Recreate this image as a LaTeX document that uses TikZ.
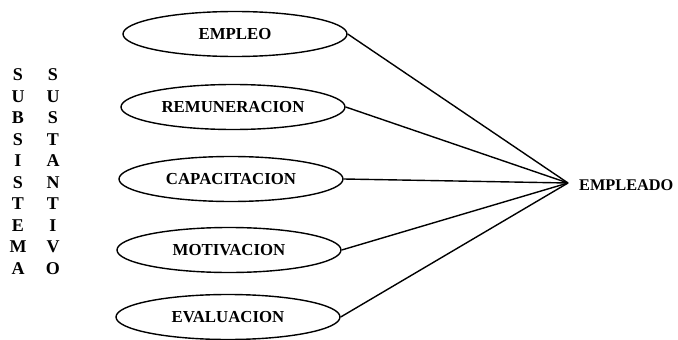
\documentclass[tikz,border=0pt]{standalone}
\usepackage{fontspec}
\setmainfont{Liberation Serif}
\usetikzlibrary{shapes.geometric}
\begin{document}
\begin{tikzpicture}[x=1pt,y=-1pt,
  oval/.style={draw, line width=1.4pt, ellipse, minimum width=224pt, minimum height=45pt, inner sep=0pt, font=\fontsize{16.8}{16.8}\selectfont\bfseries},
  conn/.style={line width=1.4pt},
  vletter/.style={font=\fontsize{18}{18}\selectfont\bfseries, inner sep=0pt, anchor=center},
  lbl/.style={font=\fontsize{16.3}{16.3}\selectfont\bfseries, inner sep=0pt}]
\useasboundingbox (0,0) rectangle (678,340);
\fill[white] (0,0) rectangle (678,340);
\node[oval] (e1) at (235,34) {EMPLEO};
\node[oval] (e2) at (233,107) {REMUNERACION};
\node[oval] (e3) at (231,179) {CAPACITACION};
\node[oval] (e4) at (229,250) {MOTIVACION};
\node[oval] (e5) at (228,317) {EVALUACION};
\coordinate (hub) at (568,183);
\node[lbl, anchor=west] (emp) at (579,185) {EMPLEADO};
\foreach \e in {e1,e2,e3,e4,e5} \draw[conn] (\e.east) -- (hub);
\foreach \c [count=\i from 0] in {S,U,B,S,I,S,T,E,M,A}
  \node[vletter] (a\i) at (18,{75+21.5*\i}) {\c};
\foreach \c [count=\i from 0] in {S,U,S,T,A,N,T,I,V,O}
  \node[vletter] (b\i) at (53,{75+21.5*\i}) {\c};
\end{tikzpicture}
\end{document}
